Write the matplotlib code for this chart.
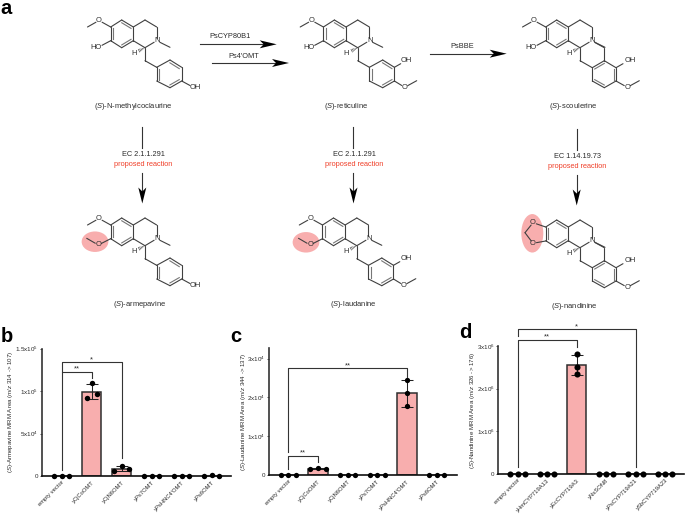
import numpy as np
import matplotlib
matplotlib.use('Agg')
import matplotlib.pyplot as plt
from matplotlib.patches import Ellipse, Polygon

plt.rcParams['font.family'] = ['Liberation Sans', 'DejaVu Sans']
plt.rcParams['mathtext.fontset'] = 'custom'
plt.rcParams['mathtext.rm'] = 'Liberation Sans'
plt.rcParams['mathtext.it'] = 'Liberation Sans:italic'
plt.rcParams['mathtext.bf'] = 'Liberation Sans:bold'

W, H = 685, 515
BOND = '#404040'
TXT = '#2b2b2b'
PINK = '#f8aeae'
RED = '#f0402a'

# panel data, three replicates per strain
b_labels = ['empty vector', 'yCjCoOMT', 'yCjN6OMT', 'yPs7OMT', "yPsHNC4'OMT", 'yPs6OMT']
b_values = [[0, 0, 0], [92000, 109000, 97000], [6300, 11400, 8200],
            [0, 0, 0], [0, 0, 0], [0, 1500, 0]]
b_ticks = [0, 50000, 100000, 150000]
b_ticklabels = ['0', '5x10$^{4}$', '1x10$^{5}$', '1.5x10$^{5}$']
b_ylabel = r'($\mathit{S}$)-Armepavine MRM Area ($\mathit{m/z}$ 314 -> 107)'

c_labels = ['empty vector', 'yCjCoOMT', 'yCjN6OMT', 'yPs7OMT', "yPsHNC4'OMT", 'yPs6OMT']
c_values = [[0, 0, 0], [1540, 1800, 1470], [0, 0, 0],
            [0, 0, 0], [17700, 21000, 24600], [0, 0, 0]]
c_ticks = [0, 10000, 20000, 30000]
c_ticklabels = ['0', '1x10$^{4}$', '2x10$^{4}$', '3x10$^{4}$']
c_ylabel = r'($\mathit{S}$)-Laudanine MRM Area ($\mathit{m/z}$ 344 -> 137)'

d_labels = ['empty vector', 'yHmCYP719A13', 'yEcCYP719A3', 'yNsSON8', 'yPsCYP719A21', 'ySbCYP719A23']
d_values = [[0, 0, 0], [0, 0, 0], [2350000, 2510000, 2820000],
            [0, 0, 0], [0, 0, 0], [0, 0, 0]]
d_ticks = [0, 1000000, 2000000, 3000000]
d_ticklabels = ['0', '1x10$^{6}$', '2x10$^{6}$', '3x10$^{6}$']
d_ylabel = r'($\mathit{S}$)-Nandinine MRM Area ($\mathit{m/z}$ 326 -> 176)'

fig = plt.figure(figsize=(W / 100, H / 100), dpi=100)
ov = fig.add_axes([0, 0, 1, 1], zorder=5)
ov.set_xlim(0, W)
ov.set_ylim(H, 0)
ov.axis('off')


def bond(p, q, trim_p=0, trim_q=0, lw=0.8):
    p, q = np.array(p, float), np.array(q, float)
    u = (q - p) / np.hypot(*(q - p))
    a, b = p + u * trim_p, q - u * trim_q
    ov.plot([a[0], b[0]], [a[1], b[1]], color=BOND, lw=lw, solid_capstyle='round', zorder=3)


def atom(x, y, s, size=5.4):
    ov.text(x, y, s, fontsize=size, color=TXT, ha='center', va='center', zorder=4)


def ring(pts, doubles, dx, dy):
    pts = [(x + dx, y + dy) for x, y in pts]
    c = np.mean(pts, axis=0)
    for i in range(6):
        bond(pts[i], pts[(i + 1) % 6])
    for i in doubles:
        p, q = np.array(pts[i]), np.array(pts[(i + 1) % 6])
        p2 = p + (c - p) * 0.2
        q2 = q + (c - q) * 0.2
        ov.plot([p2[0], q2[0]], [p2[1], q2[1]], color='#777777', lw=0.8, zorder=3)


A_RING = [(121.7, 20), (133.3, 27), (133.3, 40.7), (121.7, 47.7), (110.7, 40.7), (110.7, 27)]
C_RING = [(156.7, 67.3), (170, 60), (181.7, 67.3), (181.7, 81), (170, 87.7), (156.7, 81)]
D_RING = [(169.3, 60.7), (181, 67.7), (181, 81), (169.3, 87.7), (157.3, 81), (157.3, 67.7)]


def hashed(p, q):
    p, q = np.array(p), np.array(q)
    u = q - p
    n = np.array([-u[1], u[0]]) / np.hypot(*u)
    for t in [0.2, 0.4, 0.6, 0.8, 1.0]:
        c = p + u * t
        ov.plot([c[0] - n[0] * t * 1.5, c[0] + n[0] * t * 1.5],
                [c[1] - n[1] * t * 1.5, c[1] + n[1] * t * 1.5], color=BOND, lw=0.45, zorder=3)


def isoquinoline(dx, dy, lower='HO', methyl=True):
    ring(A_RING, [0, 2, 4], dx, dy)
    o = lambda x, y: (x + dx, y + dy)
    bond(o(133.3, 27), o(145, 20))
    bond(o(145, 20), o(156.7, 27))
    bond(o(156.7, 27), o(156.7, 40.7), 0, 3)
    bond(o(156.7, 40.7), o(145, 47.7), 3, 0)
    bond(o(145, 47.7), o(133.3, 40.7))
    atom(*o(157.3, 41), 'N')
    if methyl:
        bond(o(156.7, 40.7), o(170, 47.3), 3.5, 0)
    hashed(o(145, 47.7), o(139, 50.7))
    atom(*o(133.8, 53.3), 'H')
    bond(o(145, 47.7), o(145, 60.7))
    # methoxy / hydroxy / methylenedioxy on ring A
    if lower == 'HO':
        bond(o(110.7, 27), o(99, 20.5), 0, 3.5)
        atom(*o(99, 20.5), 'O')
        bond(o(99, 20.5), o(87.5, 27), 3.5, 0)
        bond(o(110.7, 40.7), o(102, 45.3), 0, 0)
        atom(*o(96.5, 47.3), 'HO')
    elif lower == 'OMe':
        bond(o(110.7, 27), o(99, 20.5), 0, 3.5)
        atom(*o(99, 20.5), 'O')
        bond(o(99, 20.5), o(87.5, 27), 3.5, 0)
        bond(o(110.7, 40.7), o(98.3, 47), 0, 3.5)
        atom(*o(98.3, 47), 'O')
        bond(o(98.3, 47), o(86.7, 40.3), 3.5, 0)
    else:
        bond(o(110.7, 27), o(98, 22.7), 0, 3.5)
        bond(o(110.7, 41), o(98, 43.3), 0, 3.5)
        atom(*o(98, 22.7), 'O')
        atom(*o(98, 43.3), 'O')
        bond(o(98, 22.7), o(90, 32.7), 3, 0)
        bond(o(98, 43.3), o(90, 32.7), 3, 0)


def benzyl_phenol(dx, dy):
    ring(C_RING, [5, 1, 3], dx, dy)
    bond((145 + dx, 60.7 + dy), (156.7 + dx, 67.3 + dy))
    bond((181.7 + dx, 81 + dy), (190 + dx, 85.5 + dy))
    atom(195.7 + dx, 87.3 + dy, 'OH')


def benzyl_guaiacol(dx, dy):
    ring(C_RING, [5, 1, 3], dx, dy)
    bond((145 + dx, 60.7 + dy), (156.7 + dx, 67.3 + dy))
    bond((181.7 + dx, 67.3 + dy), (188 + dx, 63.7 + dy))
    atom(194 + dx, 60 + dy, 'OH')
    bond((181.7 + dx, 81 + dy), (192 + dx, 87.3 + dy), 0, 3.5)
    atom(192 + dx, 87.3 + dy, 'O')
    bond((192 + dx, 87.3 + dy), (204 + dx, 80.7 + dy), 3.5, 0)


def berberine_end(dx, dy):
    # dx, dy as for isoquinoline; ring D closes through the N
    ring(D_RING, [5, 1, 3], dx, dy)
    bond((145 + dx, 60.7 + dy), (157.3 + dx, 67.7 + dy))
    bond((156.7 + dx, 40.7 + dy), (169.3 + dx, 47.7 + dy), 3.5, 0)
    bond((169.3 + dx, 47.7 + dy), (169.3 + dx, 60.7 + dy))
    bond((181 + dx, 67.7 + dy), (188 + dx, 63.7 + dy))
    atom(195 + dx, 60 + dy, 'OH')
    bond((181 + dx, 81 + dy), (192.3 + dx, 87.3 + dy), 0, 3.5)
    atom(192.3 + dx, 87.3 + dy, 'O')
    bond((192.3 + dx, 87.3 + dy), (204.3 + dx, 80.7 + dy), 3.5, 0)


# highlights go under the bonds
for cx, cy, w, h in [(95, 241.7, 26.7, 20.5), (306, 242.3, 26.7, 20.5), (532.3, 233.3, 22, 38.5)]:
    ov.add_patch(Ellipse((cx, cy), w, h, facecolor=PINK, edgecolor='none', zorder=1))

isoquinoline(0, 0)
benzyl_phenol(0, 0)
isoquinoline(212.7, 0)
benzyl_guaiacol(212.7, 0)
isoquinoline(435, 0)
berberine_end(435, 0)
isoquinoline(0, 198, 'OMe')
benzyl_phenol(0, 198)
isoquinoline(211.8, 198, 'OMe')
benzyl_guaiacol(211.8, 198)
isoquinoline(435, 200, 'MD')
berberine_end(435, 200)


def harrow(x0, x1, y):
    ov.plot([x0, x1 - 8], [y, y], color='#333333', lw=0.8, zorder=3)
    ov.add_patch(Polygon([(x1, y), (x1 - 17, y - 4), (x1 - 13, y), (x1 - 17, y + 4)],
                         facecolor='black', edgecolor='none', zorder=4))


def varrow(x, y0, y1):
    ov.plot([x, x], [y0, y1 - 8], color='#333333', lw=0.8, zorder=3)
    ov.add_patch(Polygon([(x, y1), (x - 4, y1 - 16), (x, y1 - 12), (x + 4, y1 - 16)],
                         facecolor='black', edgecolor='none', zorder=4))


harrow(200, 276.7, 44.3)
harrow(212, 289, 63)
harrow(430, 506.7, 53.7)
ov.text(230, 37, 'PsCYP80B1', fontsize=5.3, color=TXT, ha='center', va='center')
ov.text(244, 56.7, "Ps4'OMT", fontsize=5.3, color=TXT, ha='center', va='center')
ov.text(461.7, 46.7, 'PsBBE', fontsize=5.3, color=TXT, ha='center', va='center')

for x, y0, ec, ytop in [(142.3, 127, 'EC 2.1.1.291', 0), (353.5, 127, 'EC 2.1.1.291', 0),
                        (576.7, 129, 'EC 1.14.19.73', 2)]:
    ov.plot([x, x], [y0, y0 + 21], color='#333333', lw=0.8)
    ov.text(x + 0.8, 155 + ytop, ec, fontsize=5.3, color=TXT, ha='center', va='center')
    ov.text(x + 0.8, 164 + ytop, 'proposed reaction', fontsize=5.3, color=RED, ha='center', va='center')
    varrow(x, 173 + ytop, 203.5 + ytop)

for x, y, s in [(133.5, 106.7, r'($\mathit{S}$)-N-methylcoclaurine'),
                (346, 106.7, r'($\mathit{S}$)-reticuline'),
                (573, 106.7, r'($\mathit{S}$)-scoulerine'),
                (140, 305, r'($\mathit{S}$)-armepavine'),
                (353, 305, r'($\mathit{S}$)-laudanine'),
                (574.5, 306.7, r'($\mathit{S}$)-nandinine')]:
    ov.text(x, y, s, fontsize=5.4, color=TXT, ha='center', va='center')

for x, y, s in [(6, 8, 'a'), (7, 337, 'b'), (236, 336, 'c'), (465, 332, 'd')]:
    ov.text(x, y, s, fontsize=14.5, fontweight='bold', color='black', ha='center', va='center')


def bar_panel(box, x_first, x_step, ymax, labels, values, ticks, ticklabels, spread, msize):
    left, top, right, base = box
    ax = fig.add_axes([left / W, 1 - base / H, (right - left) / W, (base - top) / H], zorder=6)
    ax.patch.set_alpha(0)
    ax.set_xlim((left - x_first) / x_step, (right - x_first) / x_step)
    ax.set_ylim(0, ymax)
    for s in ['top', 'right']:
        ax.spines[s].set_visible(False)
    ax.spines['left'].set_linewidth(1.2)
    ax.spines['left'].set_color('#333333')
    ax.spines['bottom'].set_linewidth(1.2)
    ax.spines['bottom'].set_color('#111111')
    x = np.arange(len(labels))
    means = [np.mean(v) for v in values]
    sds = [np.std(v, ddof=1) for v in values]
    ax.bar(x, means, width=0.65, color=PINK, edgecolor='#2f2f2f', linewidth=1.1, zorder=2)
    ax.errorbar(x, means, yerr=sds, fmt='none', ecolor='#222222', elinewidth=0.75,
                capsize=4.2, capthick=0.75, zorder=3, clip_on=False)
    for i, v in enumerate(values):
        ax.plot(i + np.array([-1, 0, 1]) * spread[i], v, 'o', color='black', ms=msize,
                mew=0, zorder=4, clip_on=False)
    ax.set_xticks(x)
    ax.set_xticklabels(labels, rotation=45, ha='right', rotation_mode='anchor',
                       fontsize=4.2, color=TXT)
    ax.tick_params(axis='x', length=0, pad=2.8)
    ax.set_yticks(ticks)
    ax.set_yticklabels(ticklabels, fontsize=4.5, color=TXT)
    ax.tick_params(axis='y', length=1.5, width=0.6, pad=1.2, color='#333333')
    return ax


def bracket(ax, x0, x1, top, y0, y1, stars, star_y):
    ax.plot([x0, x0, x1, x1], [y0, top, top, y1], color='#333333', lw=0.8, zorder=5, clip_on=False)
    ax.text((x0 + x1) / 2, star_y, stars, fontsize=5.5, color=TXT, ha='center', va='center',
            clip_on=False, zorder=5)


b_spread = [0.255, 0.167, 0.255, 0.255, 0.255, 0.255]
ax_b = bar_panel((41.7, 348.5, 231, 476), 61.7, 30, 150000, b_labels, b_values,
                 b_ticks, b_ticklabels, b_spread, 3.9)
bracket(ax_b, 0, 1, 122700, 7000, 115000, '**', 126000)
bracket(ax_b, 0, 2, 133800, 122700, 20800, '*', 137000)

c_spread = [0.255, 0.255, 0.255, 0.255, 0, 0.255]
ax_c = bar_panel((269, 347.7, 456.7, 475), 288.3, 29.7, 32800, c_labels, c_values,
                 c_ticks, c_ticklabels, c_spread, 3.8)
bracket(ax_c, 0, 1, 4960, 1500, 3300, '**', 5800)
bracket(ax_c, 0, 4, 27500, 5800, 25300, '**', 28200)

d_spread = [0.245, 0.245, 0, 0.245, 0.245, 0.245]
ax_d = bar_panel((498.3, 346, 684.3, 474), 517.7, 29.45, 3000000, d_labels, d_values,
                 d_ticks, d_ticklabels, d_spread, 4.4)
bracket(ax_d, 0, 2, 3130000, 170000, 2980000, '**', 3210000)
bracket(ax_d, 0, 4, 3390000, 3230000, 170000, '*', 3440000)

for x, y, s in [(10.7, 411.7, b_ylabel), (243.3, 411.7, c_ylabel), (472.5, 410, d_ylabel)]:
    ov.text(x, y, s, fontsize=4.4, color=TXT, rotation=90, ha='center', va='center')

fig.savefig('out.png', dpi=100)
